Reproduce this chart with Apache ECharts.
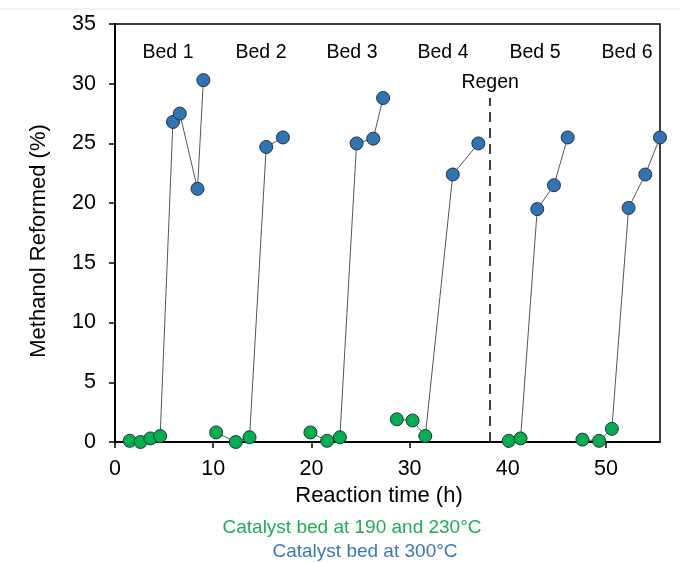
<!DOCTYPE html>
<html>
<head>
<meta charset="utf-8">
<script src="https://cdn.jsdelivr.net/npm/echarts@6/dist/echarts.min.js"></script>
<style>html,body{margin:0;padding:0;background:#fff;}#c{width:680px;height:562px;}</style>
</head>
<body>
<div id="c"></div>
<script>
// Data
const bedNames = ['Bed 1', 'Bed 2', 'Bed 3', 'Bed 4', 'Bed 5', 'Bed 6'];

const bed1LowTime = [1.5, 2.6, 3.6, 4.6];
const bed1LowValue = [0.1, 0.0, 0.3, 0.5];
const bed1HighTime = [5.9, 6.6, 8.4, 9.0];
const bed1HighValue = [26.8, 27.5, 21.2, 30.3];

const bed2LowTime = [10.3, 12.3, 13.7];
const bed2LowValue = [0.8, 0.0, 0.4];
const bed2HighTime = [15.4, 17.1];
const bed2HighValue = [24.7, 25.5];

const bed3LowTime = [19.9, 21.6, 22.9];
const bed3LowValue = [0.8, 0.1, 0.4];
const bed3HighTime = [24.6, 26.3, 27.3];
const bed3HighValue = [25.0, 25.4, 28.8];

const bed4LowTime = [28.7, 30.3, 31.6];
const bed4LowValue = [1.9, 1.8, 0.5];
const bed4HighTime = [34.4, 37.0];
const bed4HighValue = [22.4, 25.0];

const bed5LowTime = [40.1, 41.3];
const bed5LowValue = [0.1, 0.3];
const bed5HighTime = [43.0, 44.7, 46.1];
const bed5HighValue = [19.5, 21.5, 25.5];

const bed6LowTime = [47.6, 49.3, 50.6];
const bed6LowValue = [0.2, 0.1, 1.1];
const bed6HighTime = [52.3, 54.0, 55.5];
const bed6HighValue = [19.6, 22.4, 25.5];

const regenTime = 38.2;
const regenTop = 28.8;

const xTicks = [0, 10, 20, 30, 40, 50];
const yTicks = [0, 5, 10, 15, 20, 25, 30, 35];

const xTitle = 'Reaction time (h)';
const yTitle = 'Methanol Reformed (%)';

const lowColor = '#00b050';
const highColor = '#2e75b6';

const beds = [
  [bed1LowTime, bed1LowValue, bed1HighTime, bed1HighValue],
  [bed2LowTime, bed2LowValue, bed2HighTime, bed2HighValue],
  [bed3LowTime, bed3LowValue, bed3HighTime, bed3HighValue],
  [bed4LowTime, bed4LowValue, bed4HighTime, bed4HighValue],
  [bed5LowTime, bed5LowValue, bed5HighTime, bed5HighValue],
  [bed6LowTime, bed6LowValue, bed6HighTime, bed6HighValue]
];

const font = 'Liberation Sans, Arial, sans-serif';

const series = beds.map(function (b, i) {
  const data = [];
  b[0].forEach(function (t, k) { data.push({ value: [t, b[1][k]], itemStyle: { color: lowColor } }); });
  b[2].forEach(function (t, k) { data.push({ value: [t, b[3][k]], itemStyle: { color: highColor } }); });
  return {
    type: 'line',
    name: bedNames[i],
    data: data,
    symbol: 'circle',
    symbolSize: 13,
    lineStyle: { color: '#555555', width: 1 },
    itemStyle: { borderColor: '#263238', borderWidth: 1 },
    emphasis: { disabled: true },
    animation: false,
    z: 3
  };
});

series.push({
  type: 'line',
  data: [],
  animation: false,
  markLine: {
    symbol: ['none', 'none'],
    silent: true,
    animation: false,
    lineStyle: { color: '#000', type: [10, 6], width: 1.5 },
    label: { show: true, position: 'end', formatter: 'Regen', color: '#000', fontSize: 19.5, fontFamily: font, distance: 5 },
    data: [[{ coord: [regenTime, 0] }, { coord: [regenTime, regenTop] }]]
  }
});

const chart = echarts.init(document.getElementById('c'), null, { renderer: 'canvas' });

const bedLabelX = [168, 261, 352, 443, 535, 627];

chart.setOption({
  animation: false,
  backgroundColor: '#fff',
  grid: { left: 115, right: 20, top: 24, bottom: 120, show: true, borderColor: '#000', borderWidth: 1.5, backgroundColor: 'transparent' },
  xAxis: {
    type: 'value', min: 0, max: 55.5, interval: 10,
    axisLine: { show: true, lineStyle: { color: '#000', width: 2 } },
    axisTick: { show: true, inside: false, length: 6, lineStyle: { color: '#000', width: 1.5 } },
    axisLabel: { fontSize: 21.5, color: '#000', fontFamily: font, margin: 16, showMaxLabel: false,
      formatter: function (v) { return xTicks.indexOf(v) >= 0 ? String(v) : ''; } },
    splitLine: { show: false }
  },
  yAxis: {
    type: 'value', min: 0, max: 35, interval: 5,
    axisLine: { show: true, lineStyle: { color: '#000', width: 2 } },
    axisTick: { show: true, inside: false, length: 6, lineStyle: { color: '#000', width: 1.5 } },
    axisLabel: { fontSize: 21.5, color: '#000', fontFamily: font, margin: 19,
      formatter: function (v) { return yTicks.indexOf(v) >= 0 ? String(v) : ''; } },
    splitLine: { show: false }
  },
  graphic: [
    { type: 'line', shape: { x1: 0, y1: 9, x2: 680, y2: 9 }, style: { stroke: '#e6e6e6', lineWidth: 1 }, silent: true },
    ...bedNames.map(function (n, i) {
      return { type: 'text', x: bedLabelX[i], y: 53, style: { text: n, font: '19.5px ' + font, fill: '#000', textAlign: 'center', textVerticalAlign: 'middle' }, silent: true };
    }),
    { type: 'text', x: 379, y: 496, style: { text: xTitle, font: '22px ' + font, fill: '#000', textAlign: 'center', textVerticalAlign: 'middle' }, silent: true },
    { type: 'text', x: 39, y: 241, rotation: Math.PI / 2, style: { text: yTitle, font: '22px ' + font, fill: '#000', textAlign: 'center', textVerticalAlign: 'middle' }, silent: true },
    { type: 'text', x: 352, y: 528, style: { text: 'Catalyst bed at 190 and 230°C', font: '19px ' + font, fill: '#1fae55', textAlign: 'center', textVerticalAlign: 'middle' }, silent: true },
    { type: 'text', x: 365, y: 552, style: { text: 'Catalyst bed at 300°C', font: '19px ' + font, fill: '#3b78b8', textAlign: 'center', textVerticalAlign: 'middle' }, silent: true }
  ],
  series: series
});
</script>
</body>
</html>
